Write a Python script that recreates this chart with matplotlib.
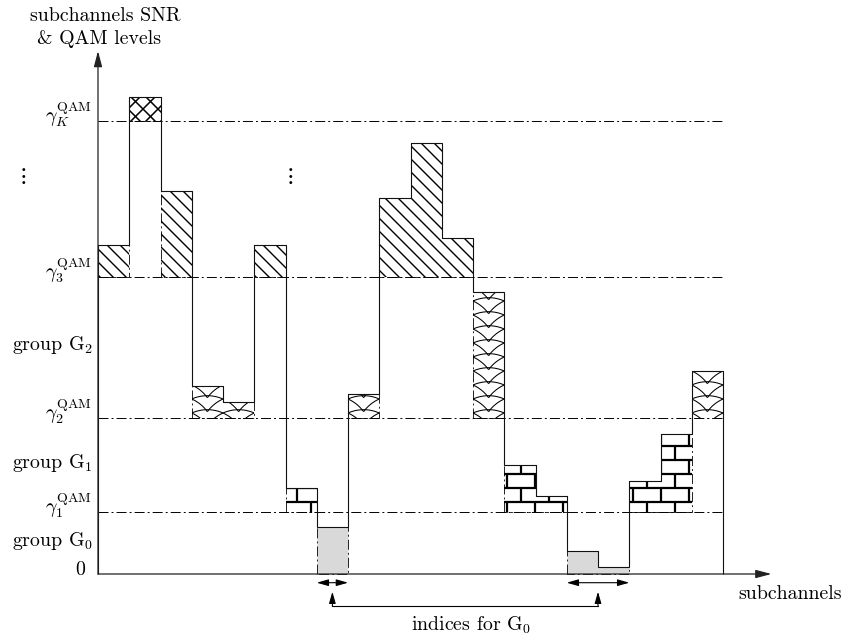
import numpy as np
import matplotlib
matplotlib.use("Agg")
import matplotlib.pyplot as plt
from matplotlib.patches import Polygon
from matplotlib.collections import LineCollection

plt.rcParams["mathtext.fontset"] = "cm"
plt.rcParams["font.family"] = "cmr10"
plt.rcParams["axes.unicode_minus"] = False
plt.rcParams["lines.scale_dashes"] = False

# per-subchannel SNR (linear, arbitrary units)
snr = [32.9, 47.7, 38.3, 18.8, 17.2, 32.9, 8.6, 4.7, 18.0, 37.6,
       43.1, 33.6, 28.2, 10.9, 7.8, 2.3, 0.7, 9.3, 14.0, 20.3]

# QAM switching thresholds: 0, gamma_1, gamma_2, gamma_3, gamma_K
thresholds = [0.0, 6.2, 15.6, 29.7, 45.3]
threshold_labels = ["0",
                    r"$\gamma_1^{\mathrm{QAM}}$",
                    r"$\gamma_2^{\mathrm{QAM}}$",
                    r"$\gamma_3^{\mathrm{QAM}}$",
                    r"$\gamma_K^{\mathrm{QAM}}$"]
group_labels = [r"group $\mathrm{G}_0$", r"group $\mathrm{G}_1$", r"group $\mathrm{G}_2$"]

# drawing scale: pixels per data unit
PX_X, PX_Y = 31.25, 10.0
DASHDOT = (0, (7.2, 2.2, 1.4, 2.2))
FS = 14.3

fig = plt.figure(figsize=(8.48, 6.41), dpi=100)
ax = fig.add_axes([0, 0, 1, 1])
ax.set_xlim(-98 / PX_X, 750 / PX_X)
ax.set_ylim(-67 / PX_Y, 574 / PX_Y)
ax.axis("off")

n = len(snr)


def level_of(v):
    return max(i for i, g in enumerate(thresholds) if v >= g)


levels = [level_of(v) for v in snr]

# contiguous runs of subchannels sharing the same QAM level
runs = []
start = 0
for i in range(1, n + 1):
    if i == n or levels[i] != levels[start]:
        runs.append((start, i, levels[start]))
        start = i


def to_data(X, Y):
    return (X / PX_X, Y / PX_Y)


def hatch_lines(X0, X1, Y0, Y1, step, both=False):
    segs = []
    # "\" lines: Y = -X + c
    c = np.floor((X0 + Y0) / step) * step
    while c <= X1 + Y1 + step:
        segs.append([to_data(X0 - 50, c - X0 + 50), to_data(X1 + 50, c - X1 - 50)])
        c += step
    if both:
        c = np.floor((Y0 - X1) / step) * step
        while c <= Y1 - X0 + step:
            segs.append([to_data(X0 - 50, X0 - 50 + c), to_data(X1 + 50, X1 + 50 + c)])
            c += step
    return segs


def brick_lines(X0, X1, Y0, Y1, h=14.0, w=28.0, y_ref=72.0, x_ref=17.0):
    segs = []
    k0 = int(np.floor((Y0 - y_ref) / h)) - 1
    k1 = int(np.ceil((Y1 - y_ref) / h)) + 1
    for k in range(k0, k1 + 1):
        top = y_ref + k * h
        segs.append([to_data(X0 - 5, top), to_data(X1 + 5, top)])
        off = x_ref + (w / 2) * (k % 2)
        m0 = int(np.floor((X0 - off) / w)) - 1
        m1 = int(np.ceil((X1 - off) / w)) + 1
        for m in range(m0, m1 + 1):
            X = off + m * w
            segs.append([to_data(X, top - h), to_data(X, top)])
    return segs


def scale_lines(X0, X1, Y0, Y1, h=14.0, w=31.25, y_ref=148.3):
    # overlapping circular arcs ("fish scales"), each spanning two periods
    half, sag = w, 16.0
    R = (half ** 2 + sag ** 2) / (2 * sag)
    yc = sag - R
    t0 = np.arccos(half / R)
    t = np.linspace(t0, np.pi - t0, 60)
    segs = []
    k0 = int(np.floor((Y0 - y_ref) / h)) - 2
    k1 = int(np.ceil((Y1 - y_ref) / h)) + 2
    for k in range(k0, k1 + 1):
        yb = y_ref + k * h
        m0 = int(np.floor(X0 / w)) - 2
        m1 = int(np.ceil(X1 / w)) + 2
        for m in range(m0, m1 + 1):
            xc = w / 2 + m * w
            xs = (xc + R * np.cos(t)) / PX_X
            ys = (yb + yc + R * np.sin(t)) / PX_Y
            segs.append(np.column_stack([xs, ys]))
    return segs


# patterned area between each run's QAM threshold and its SNR profile
for a, b, lev in runs:
    base = thresholds[lev]
    verts = [(a, base)]
    for i in range(a, b):
        verts += [(i, snr[i]), (i + 1, snr[i])]
    verts += [(b, base)]
    face = "#d9d9d9" if lev == 0 else "none"
    poly = Polygon(verts, closed=True, facecolor=face, edgecolor="k",
                   linestyle=DASHDOT, lw=0.6, zorder=2)
    ax.add_patch(poly)
    X0, X1 = a * PX_X, b * PX_X
    Y0, Y1 = base * PX_Y, max(snr[a:b]) * PX_Y
    if lev == 1:
        segs, lw = brick_lines(X0, X1, Y0, Y1), 1.6
    elif lev == 2:
        segs, lw = scale_lines(X0, X1, Y0, Y1), 0.75
    elif lev == 3:
        segs, lw = hatch_lines(X0, X1, Y0, Y1, 13.0), 1.0
    elif lev == 4:
        segs, lw = hatch_lines(X0, X1, Y0, Y1, 15.0, both=True), 1.1
    else:
        segs = []
    if segs:
        lc = LineCollection(segs, colors="k", linewidths=lw, zorder=3)
        ax.add_collection(lc)
        lc.set_clip_path(poly)

# threshold lines
for g in thresholds[1:]:
    ax.plot([0, n], [g, g], color="k", lw=0.7, linestyle=DASHDOT, zorder=4)

# SNR profile
ax.stairs(snr, np.arange(n + 1), baseline=0, fill=False, color="#111111",
          lw=0.8, zorder=5)

# axes with arrows
arrow_kw = dict(arrowstyle="-|>,head_length=0.95,head_width=0.25", lw=0.9,
                color="#222222", shrinkA=0, shrinkB=0, mutation_scale=10)
ax.annotate("", xy=(0, 52.3), xytext=(0, 0), arrowprops=arrow_kw, zorder=6)
ax.annotate("", xy=(21.55, 0), xytext=(0, 0), arrowprops=arrow_kw, zorder=6)

# axis titles
ax.text(0.22, 55.8, "subchannels SNR", ha="center", va="center", fontsize=FS)
ax.text(0.03, 53.5, "& QAM levels", ha="center", va="center", fontsize=FS)
ax.text(20.48, -2.0, "subchannels", ha="left", va="center", fontsize=FS)

# threshold labels
for g, lab in zip(thresholds[1:], threshold_labels[1:]):
    ax.text(-0.18, g + 0.6, lab, ha="right", va="center", fontsize=FS)
ax.text(-0.42, 0.4, threshold_labels[0], ha="right", va="center", fontsize=FS)

# group labels, centred between consecutive thresholds
for k, lab in enumerate(group_labels):
    ymid = 0.5 * (thresholds[k] + thresholds[k + 1])
    ax.text(-0.16, ymid + 0.2, lab, ha="right", va="center", fontsize=FS)

# omitted intermediate levels
for xv in (-2.43, 6.11):
    ax.text(xv, 39.8, r"$\vdots$", ha="center", va="center", fontsize=FS + 2)

# subchannel index ranges of group G0
g0_runs = [(a, b) for a, b, lev in runs if lev == 0]
dbl_kw = dict(arrowstyle="<|-|>,head_length=0.7,head_width=0.2", lw=0.8,
              color="k", shrinkA=0, shrinkB=0, mutation_scale=10)
up_kw = dict(arrowstyle="-|>,head_length=0.7,head_width=0.2", lw=0.8,
             color="k", shrinkA=0, shrinkB=0, mutation_scale=10)
centers = []
for a, b in g0_runs:
    ax.annotate("", xy=(b, -0.87), xytext=(a, -0.87), arrowprops=dbl_kw)
    c = 0.5 * (a + b)
    centers.append(c)
    ax.annotate("", xy=(c, -1.77), xytext=(c, -3.2), arrowprops=up_kw)
ax.plot([centers[0], centers[-1]], [-3.2, -3.2], color="k", lw=0.8)
ax.text(11.95, -5.1, r"indices for $\mathrm{G}_0$", ha="center", va="center",
        fontsize=FS)

fig.savefig("out.png", dpi=100)
